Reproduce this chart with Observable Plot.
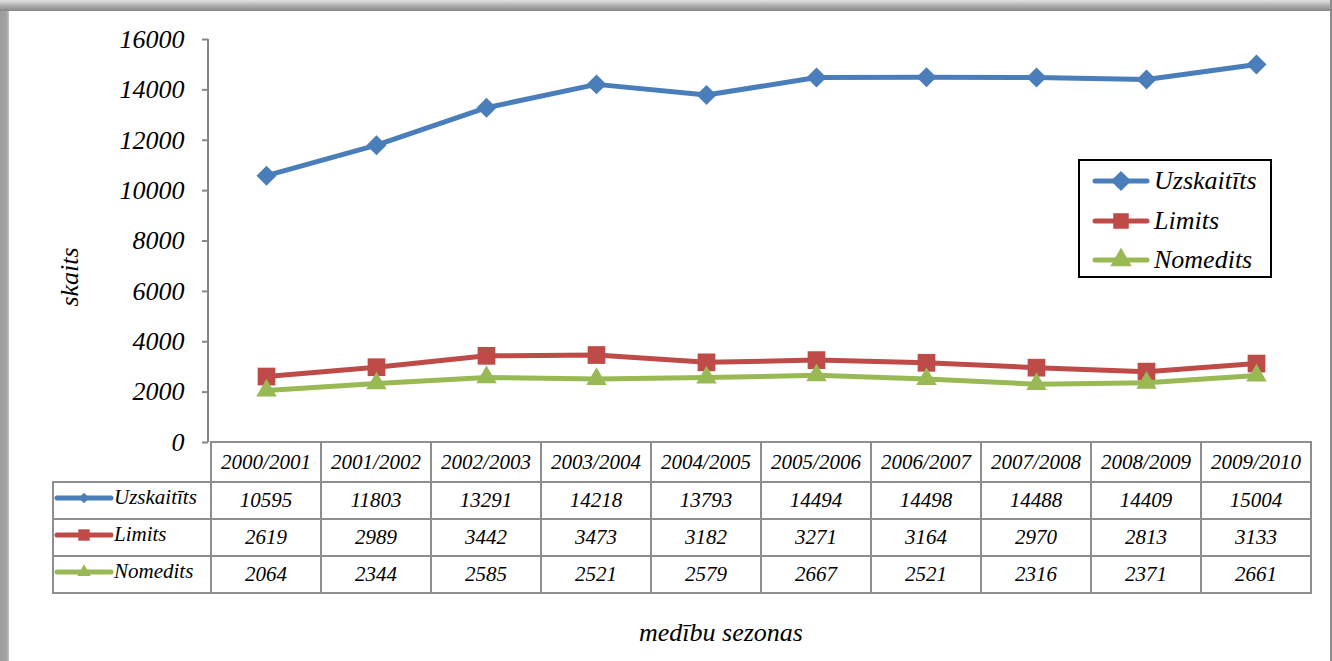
<!DOCTYPE html>
<html>
<head>
<meta charset="utf-8">
<script src="https://cdn.jsdelivr.net/npm/d3@7"></script>
<script src="https://cdn.jsdelivr.net/npm/@observablehq/plot@0.6"></script>
<style>
html, body { margin: 0; padding: 0; background: #fff; }
#wrap { position: relative; width: 1332px; height: 661px; overflow: hidden; background: #fff; font-family: 'Liberation Serif', serif; font-style: italic; color: #000; }
#wrap svg.plot { position: absolute; left: 0; top: 0; }
.frameLeft { position: absolute; left: 0; top: 0; width: 9px; height: 661px;
  background: linear-gradient(to right, #9c9c9c, #a4a4a4 75%, #c4c4c4); z-index: 5; }
.frameTop { position: absolute; left: 0; top: 0; width: 1332px; height: 11px;
  background: linear-gradient(#e2e2e2, #b0b0b0 50%, #868686); z-index: 6; }
.frameRight { position: absolute; left: 1330px; top: 0; width: 2px; height: 661px; background: #8c8c8c; z-index: 6; }
#ylabel { position: absolute; left: 70px; top: 277px; transform: translate(-50%, -50%) rotate(-90deg);
  font-size: 26px; white-space: nowrap; }
#xlabel { position: absolute; left: 721px; top: 633px; transform: translate(-50%, -50%);
  font-size: 26px; white-space: nowrap; }
#legend { position: absolute; left: 1078px; top: 159px; width: 190px; height: 115px;
  border: 2px solid #000; background: #fff; }
#legend .item { position: absolute; left: 12px; height: 36px; display: flex; align-items: center; font-size: 26px; white-space: nowrap; }
#legend .item svg { margin-right: 4px; }
table.dt { position: absolute; border-collapse: collapse; table-layout: fixed; }
table.dt td { border: 2px solid #8e8e8e; padding: 0; text-align: center; font-size: 21px; white-space: nowrap; overflow: hidden; }
table.dt td.leg { text-align: left; }
table.dt td.leg span { display: inline-flex; align-items: center; font-size: 21px; }
table.dt td.corner { border-top-style: hidden; border-left-style: hidden; }
</style>
</head>
<body>
<div id="wrap"></div>
<script>
// ---- data ----
const seasons = ["2000/2001","2001/2002","2002/2003","2003/2004","2004/2005","2005/2006","2006/2007","2007/2008","2008/2009","2009/2010"];
const uzskaititi = [10595, 11803, 13291, 14218, 13793, 14494, 14498, 14488, 14409, 15004];
const limits     = [2619, 2989, 3442, 3473, 3182, 3271, 3164, 2970, 2813, 3133];
const nomedits   = [2064, 2344, 2585, 2521, 2579, 2667, 2521, 2316, 2371, 2661];
const seriesNames = ["Uzskaitīts", "Limits", "Nomedits"];
const yTicks = [0, 2000, 4000, 6000, 8000, 10000, 12000, 14000, 16000];
const yLabel = "skaits";
const xLabel = "medību sezonas";

// ---- styles ----
const FONT = "'Liberation Serif', serif";
const seriesStyle = [
  {color: "#4a7ebb", symbol: "diamond2", r: 9,   d3sym: d3.symbolDiamond2},
  {color: "#be4b48", symbol: "square",   r: 10,  d3sym: d3.symbolSquare},
  {color: "#98b954", symbol: "triangle", r: 7.6, d3sym: d3.symbolTriangle}
];
const seriesValues = [uzskaititi, limits, nomedits];

const rows = [];
seriesNames.forEach((name, si) => {
  seasons.forEach((s, i) => rows.push({series: name, season: s, value: seriesValues[si][i]}));
});

const marks = [
  Plot.axisY(yTicks, {tickSize: 6, tickPadding: 18, stroke: "#868686", strokeWidth: 2, fill: "#000",
    fontSize: 26, label: null, tickFormat: "d"})
];
seriesNames.forEach((name, si) => {
  const st = seriesStyle[si];
  const data = rows.filter(d => d.series === name);
  marks.push(Plot.line(data, {x: "season", y: "value", stroke: st.color, strokeWidth: 5, strokeLinejoin: "round", strokeLinecap: "round"}));
  marks.push(Plot.dot(data, {x: "season", y: "value", symbol: st.symbol, r: st.r, fill: st.color, stroke: null}));
});

const plot = Plot.plot({
  width: 1332,
  height: 661,
  marginLeft: 208,
  marginRight: 19,
  marginTop: 39,
  marginBottom: 219,
  style: {fontFamily: FONT, fontStyle: "italic", fontSize: "26px", background: "transparent", color: "#000", overflow: "visible"},
  x: {type: "point", domain: seasons, padding: 0.5, axis: null},
  y: {domain: [0, 16000], axis: null},
  marks
});
plot.classList.add("plot");

const wrap = document.getElementById("wrap");
wrap.appendChild(plot);

// y axis line via scales
const ys = plot.scale("y");
const xs = plot.scale("x");
const x0px = xs.range[0];
d3.select(plot).append("line")
  .attr("x1", x0px).attr("x2", x0px)
  .attr("y1", ys.apply(0)).attr("y2", ys.apply(16000))
  .attr("stroke", "#868686").attr("stroke-width", 2);

// frame bands
["frameLeft", "frameTop", "frameRight"].forEach(c => {
  const d = document.createElement("div"); d.className = c; wrap.appendChild(d);
});

// axis titles
const yl = document.createElement("div"); yl.id = "ylabel"; yl.textContent = yLabel; wrap.appendChild(yl);
const xl = document.createElement("div"); xl.id = "xlabel"; xl.textContent = xLabel; wrap.appendChild(xl);

function swatch(si, w, symSize, lw) {
  const st = seriesStyle[si];
  const h = 24;
  const svg = d3.create("svg").attr("width", w).attr("height", h);
  svg.append("line").attr("x1", 3).attr("x2", w - 3).attr("y1", h / 2).attr("y2", h / 2)
    .attr("stroke", st.color).attr("stroke-width", lw).attr("stroke-linecap", "round");
  svg.append("path").attr("d", d3.symbol(st.d3sym, symSize)())
    .attr("transform", `translate(${w / 2},${h / 2})`).attr("fill", st.color);
  return svg.node();
}

// legend box
const legend = document.createElement("div"); legend.id = "legend";
seriesNames.forEach((name, si) => {
  const it = document.createElement("div"); it.className = "item";
  it.style.top = (2 + si * 39.5) + "px";
  it.appendChild(swatch(si, 58, si === 0 ? 260 : (si === 1 ? 240 : 200), 5));
  const t = document.createElement("span"); t.textContent = name; it.appendChild(t);
  legend.appendChild(it);
});
wrap.appendChild(legend);

// data table, aligned to the x scale
const step = xs.apply(seasons[1]) - xs.apply(seasons[0]);
const tblLeft = 53;
const firstColW = (xs.apply(seasons[0]) - step / 2) - tblLeft;
const table = document.createElement("table"); table.className = "dt";
table.style.left = (tblLeft - 1) + "px";
table.style.top = (ys.apply(0) - 1) + "px";
const cg = document.createElement("colgroup");
const c0 = document.createElement("col"); c0.style.width = firstColW + "px"; cg.appendChild(c0);
seasons.forEach(() => { const c = document.createElement("col"); c.style.width = step + "px"; cg.appendChild(c); });
table.appendChild(cg);
table.style.width = (firstColW + step * seasons.length) + "px";
const hr = document.createElement("tr"); hr.style.height = "40px";
const corner = document.createElement("td"); corner.className = "corner"; hr.appendChild(corner);
seasons.forEach(s => { const td = document.createElement("td"); td.textContent = s; hr.appendChild(td); });
table.appendChild(hr);
seriesNames.forEach((name, si) => {
  const tr = document.createElement("tr"); tr.style.height = "37px";
  const lt = document.createElement("td"); lt.className = "leg";
  const sp = document.createElement("span");
  sp.appendChild(swatch(si, 60, si === 0 ? 70 : (si === 1 ? 130 : 80), 5));
  const tx = document.createElement("span"); tx.textContent = name; sp.appendChild(tx);
  lt.appendChild(sp); tr.appendChild(lt);
  seriesValues[si].forEach(v => { const td = document.createElement("td"); td.textContent = v; tr.appendChild(td); });
  table.appendChild(tr);
});
wrap.appendChild(table);
</script>
</body>
</html>
